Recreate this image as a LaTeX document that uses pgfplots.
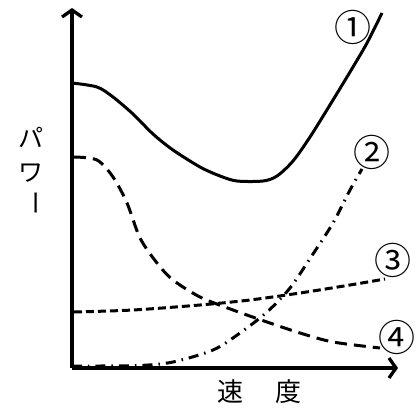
\documentclass[border=0pt]{standalone}
\usepackage{pgfplots}
\pgfplotsset{compat=1.18}
\usetikzlibrary{arrows.meta}
\usepackage{fontspec}
\newfontfamily\jp{Noto Sans CJK JP}
\begin{document}
\begin{tikzpicture}
\useasboundingbox (-72pt,-42pt) rectangle (345pt,368pt);
\begin{axis}[
  x=1pt, y=1pt,
  xmin=0, xmax=326, ymin=0, ymax=360,
  axis lines=left,
  axis line style={line width=3.3pt, -{Straight Barb[length=7pt,width=20pt]}},
  xtick=\empty, ytick=\empty,
  clip=false,
  curve/.style={line width=3pt, black, smooth, mark=none},
]
\addplot[curve, solid] coordinates {
(0,285)(25,281)(41,271)(61,254)(81,234)(101,218)(128,201)(148,192)(165,187)(191,187)(205,192)(221,207)(238,231)(261,268)(281,301)(295,325)(310,355)};
\addplot[curve, dash pattern=on 10pt off 6pt on 1.5pt off 6pt] coordinates {
(0,2)(28,2)(68,2.5)(101,6)(141,18)(168,35)(195,56)(218,80)(241,114)(261,145)(278,178)(290,199)};
\addplot[curve, dash pattern=on 8pt off 4pt] coordinates {
(2,56)(61,58)(128,63)(178,68)(228,75)(278,83)(313,89)};
\addplot[curve, dash pattern=on 12pt off 7pt] coordinates {
(2,211)(25,208)(41,191)(55,165)(68,130)(85,105)(101,88)(128,71)(161,58)(195,46)(228,35)(261,26)(308,20)};
\node[font=\jp\fontsize{37}{37}\selectfont, inner sep=0pt] at (axis cs:281,341) {①};
\node[font=\jp\fontsize{37}{37}\selectfont, inner sep=0pt] at (axis cs:300,216) {②};
\node[font=\jp\fontsize{37}{37}\selectfont, inner sep=0pt] at (axis cs:321,108) {③};
\node[font=\jp\fontsize{37}{37}\selectfont, inner sep=0pt] at (axis cs:325,31) {④};
\node[font=\jp\fontsize{26}{26}\selectfont, inner sep=0pt] at (axis cs:158,-24) {速};
\node[font=\jp\fontsize{26}{26}\selectfont, inner sep=0pt] at (axis cs:216,-24) {度};
\node[font=\jp\fontsize{25}{25}\selectfont, inner sep=0pt] at (axis cs:-41,231) {パ};
\node[font=\jp\fontsize{25}{25}\selectfont, inner sep=0pt] at (axis cs:-41,195) {ワ};
\node[font=\jp\fontsize{25}{25}\selectfont, inner sep=0pt, rotate=-90] at (axis cs:-40,165) {ー};
\end{axis}
\end{tikzpicture}
\end{document}
